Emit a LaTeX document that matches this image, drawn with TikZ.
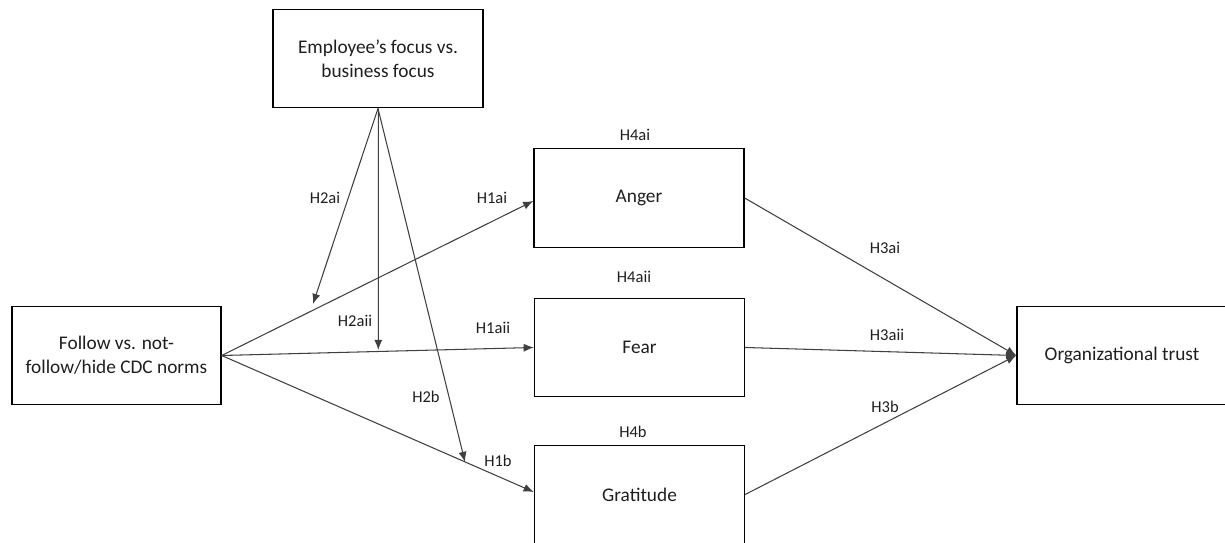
\documentclass[tikz,border=0pt]{standalone}
\usepackage{fontspec}
\setmainfont{Carlito}
\usetikzlibrary{arrows.meta}
\definecolor{ink}{HTML}{1F1F1F}
\definecolor{wire}{HTML}{404040}
\tikzset{
  box/.style={draw=black, line width=0.8pt, minimum width=4.2cm, minimum height=1.97cm,
    inner sep=0pt, align=center, font=\fontsize{11}{13.7}\selectfont, text=ink},
  lbl/.style={font=\fontsize{9.4}{10}\selectfont, text=ink, inner sep=0pt},
  arr/.style={draw=wire, line width=0.6pt, -{Latex[length=5.8pt,width=4.6pt]}},
  ln/.style={draw=wire, line width=0.6pt}
}
\begin{document}
\begin{tikzpicture}[x=0.02cm, y=-0.02cm]
\useasboundingbox (0,0) rectangle (1225,543);
\node[box] (top) at (378,58.5) {Employee’s focus vs.\\business focus};
\node[box, minimum width=4.18cm] (left) at (116.5,355.5) {Follow vs. not-\\follow/hide CDC norms};
\node[box] (anger) at (639,198) {Anger};
\node[box] (fear) at (639.5,347.5) {Fear};
\node[box] (grat) at (639.5,494.5) {Gratitude};
\node[box, minimum width=4.4cm] (trust) at (1127,355.5) {\hspace*{-0.2cm}Organizational trust};
% labels
\node[lbl] (l4ai) at (635,135) {H4ai};
\node[lbl] (l4aii) at (634,277) {H4aii};
\node[lbl] (l4b) at (633,432) {H4b};
\node[lbl] (l2ai) at (325,198) {H2ai};
\node[lbl] (l1ai) at (492,198) {H1ai};
\node[lbl] (l2aii) at (355,321) {H2aii};
\node[lbl] (l1aii) at (493,328) {H1aii};
\node[lbl] (l2b) at (426,397) {H2b};
\node[lbl] (l1b) at (498,461) {H1b};
\node[lbl] (l3ai) at (885,248) {H3ai};
\node[lbl] (l3aii) at (887,335) {H3aii};
\node[lbl] (l3b) at (885,407) {H3b};
% main paths
\draw[arr] (left.east) -- ([yshift=-0.06cm]anger.west);
\draw[arr] (left.east) -- (fear.west);
\draw[arr] (left.east) -- ([yshift=0.05cm]grat.west);
\draw[arr] (anger.east) -- (trust.west);
\draw[arr] (fear.east) -- (trust.west);
\draw[arr] (grat.east) -- (trust.west);
% moderator
\coordinate (m1) at (313,304);
\coordinate (m2) at (378.3,350);
\coordinate (m3) at (465,462);
\draw[arr] (top.south) -- (m1);
\draw[arr] ([xshift=0.006cm]top.south) -- (m2);
\draw[arr] (top.south) -- (m3);
\end{tikzpicture}
\end{document}
